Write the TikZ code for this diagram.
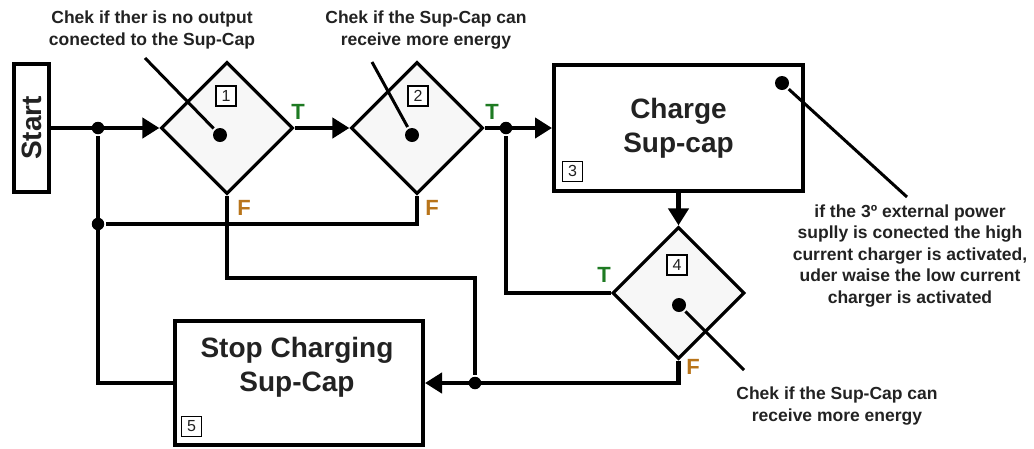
\documentclass[tikz,border=0pt]{standalone}
\usepackage{graphicx}
\usepackage{fontspec}
\setmainfont{Liberation Sans}
\usetikzlibrary{positioning}
\usetikzlibrary{arrows.meta}
\usetikzlibrary{shapes.geometric}

\definecolor{truegreen}{HTML}{1E7A22}
\definecolor{falseorange}{HTML}{B8741A}
\definecolor{inkgray}{HTML}{222222}
\definecolor{diafill}{HTML}{F7F7F7}

\begin{document}
\begin{tikzpicture}[
		x=1pt, y=-1pt,
		line width=4.2pt,
		stepbox/.style={rectangle, draw, line width=4pt, fill=white, inner sep=0pt, font=\fontsize{28}{34}\selectfont\bfseries, text=inkgray, align=center},
		decision/.style={diamond, draw, line width=3.2pt, fill=diafill, aspect=1, inner sep=0pt, minimum width=132pt, minimum height=132pt},
		numbox/.style={rectangle, draw, line width=1.3pt, fill=white, minimum size=20pt, inner sep=0pt, font=\fontsize{16}{16}\selectfont, text=inkgray},
		notetext/.style={font=\fontsize{17.5}{21.5}\selectfont\bfseries, text=inkgray, align=center},
		junction/.style={circle, fill, inner sep=0pt, minimum size=12.5pt},
		notedot/.style={circle, fill, inner sep=0pt, minimum size=14pt},
		tlabel/.style={font=\fontsize{22}{22}\selectfont\bfseries, text=truegreen},
		flabel/.style={font=\fontsize{22}{22}\selectfont\bfseries, text=falseorange},
		arrow/.style={-{Triangle[length=17pt, width=20pt]}},
		noteline/.style={line width=3pt}
	]
	\useasboundingbox (0,0) rectangle (1034,448);

	% blocks
	\node[stepbox, minimum width=35pt, minimum height=128pt] (start) at (31.5,128) {\rotatebox{90}{Start}};
	\node[decision] (d1) at (227,128) {};
	\node[decision] (d2) at (417,128) {};
	\node[stepbox, minimum width=249pt, minimum height=126pt] (charge) at (678.5,128) {Charge\\Sup-cap};
	\node[decision] (d4) at (678.5,293) {};
	\node[stepbox, minimum width=248pt, minimum height=124pt] (stop) at (299,383) {};
	\node[stepbox, draw=none, fill=none] (stoptxt) at (297,367) {Stop Charging\\Sup-Cap};

	% numbers
	\node[numbox] (n1) at (226,96) {1};
	\node[numbox] (n2) at (418,96) {2};
	\node[numbox, above right=11pt and 10pt of charge.south west, anchor=south west] (n3) {3};
	\node[numbox] (n4) at (677,265) {4};
	\node[numbox, above right=10pt and 8pt of stop.south west, anchor=south west] (n5) {5};

	% junctions
	\node[junction] (j1) at (98,128) {};
	\node[junction] (j1b) at (98,224) {};
	\node[junction] (j2) at (506,128) {};
	\node[junction] (j3) at (475,383) {};
	\coordinate (c1) at (475,278);

	% T / F
	\node[tlabel] (t1) at (298,112) {T};
	\node[flabel] (f1) at (244,208) {F};
	\node[tlabel] (t2) at (492,112) {T};
	\node[flabel] (f2) at (432,208) {F};
	\node[tlabel] (t4) at (604,275) {T};
	\node[flabel] (f4) at (693,367) {F};

	% notes
	\node[notetext] (note1) at (152,30) {Chek if ther is no output\\conected to the Sup-Cap};
	\node[notetext] (note2) at (426,30) {Chek if the Sup-Cap can\\receive more energy};
	\node[notetext] (note3) at (910,256) {if the 3º external power\\suplly is conected the high\\current charger is activated,\\uder waise the low current\\charger is activated};
	\node[notetext] (note4) at (837,406) {Chek if the Sup-Cap can\\receive more energy};
	\node[notedot] (p1) at (220,135) {};
	\node[notedot] (p2) at (412,135) {};
	\node[notedot] (p3) at (782,83) {};
	\node[notedot] (p4) at (679,305) {};
	\coordinate (a1) at (145,58);
	\coordinate (a2) at (372,62);
	\coordinate (a3) at (907,197);
	\coordinate (a4) at (744,370);

	\draw[noteline] (a1) -- (p1);
	\draw[noteline] (a2) -- (p2);
	\draw[noteline] (p3) -- (a3);
	\draw[noteline] (p4) -- (a4);

	% flow
	\draw[arrow] (start) -- (d1);
	\draw[arrow] (d1) -- (d2);
	\draw[arrow] (d2) -- (charge);
	\draw[arrow] (charge) -- (d4);
	\draw (j1) |- (stop);
	\draw (j1b) -| (d2);
	\draw (d1) |- (c1) -- (j3);
	\draw (j2) |- (d4);
	\draw[arrow] (d4) |- (stop);

\end{tikzpicture}
\end{document}
